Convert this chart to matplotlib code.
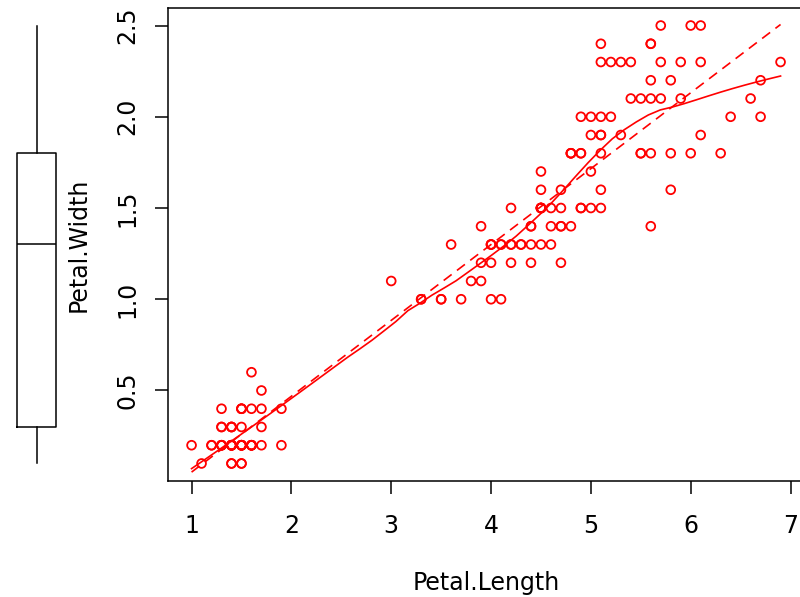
import numpy as np
import matplotlib
matplotlib.use("Agg")
import matplotlib.pyplot as plt

# iris data (Petal.Length, Petal.Width), 150 rows in original order
petal_length = [
    1.4, 1.4, 1.3, 1.5, 1.4, 1.7, 1.4, 1.5, 1.4, 1.5, 1.5, 1.6, 1.4, 1.1, 1.2, 1.5, 1.3, 1.4, 1.7, 1.5,
    1.7, 1.5, 1.0, 1.7, 1.9, 1.6, 1.6, 1.5, 1.4, 1.6, 1.6, 1.5, 1.5, 1.4, 1.5, 1.2, 1.3, 1.4, 1.3, 1.5,
    1.3, 1.3, 1.3, 1.6, 1.9, 1.4, 1.6, 1.4, 1.5, 1.4,
    4.7, 4.5, 4.9, 4.0, 4.6, 4.5, 4.7, 3.3, 4.6, 3.9, 3.5, 4.2, 4.0, 4.7, 3.6, 4.4, 4.5, 4.1, 4.5, 3.9,
    4.8, 4.0, 4.9, 4.7, 4.3, 4.4, 4.8, 5.0, 4.5, 3.5, 3.8, 3.7, 3.9, 5.1, 4.5, 4.5, 4.7, 4.4, 4.1, 4.0,
    4.4, 4.6, 4.0, 3.3, 4.2, 4.2, 4.2, 4.3, 3.0, 4.1,
    6.0, 5.1, 5.9, 5.6, 5.8, 6.6, 4.5, 6.3, 5.8, 6.1, 5.1, 5.3, 5.5, 5.0, 5.1, 5.3, 5.5, 6.7, 6.9, 5.0,
    5.7, 4.9, 6.7, 4.9, 5.7, 6.0, 4.8, 4.9, 5.6, 5.8, 6.1, 6.4, 5.6, 5.1, 5.6, 6.1, 5.6, 5.5, 4.8, 5.4,
    5.6, 5.1, 5.1, 5.9, 5.7, 5.2, 5.0, 5.2, 5.4, 5.1,
]
petal_width = [
    0.2, 0.2, 0.2, 0.2, 0.2, 0.4, 0.3, 0.2, 0.2, 0.1, 0.2, 0.2, 0.1, 0.1, 0.2, 0.4, 0.4, 0.3, 0.3, 0.3,
    0.2, 0.4, 0.2, 0.5, 0.2, 0.2, 0.4, 0.2, 0.2, 0.2, 0.2, 0.4, 0.1, 0.2, 0.2, 0.2, 0.2, 0.1, 0.2, 0.2,
    0.3, 0.3, 0.2, 0.6, 0.4, 0.3, 0.2, 0.2, 0.2, 0.2,
    1.4, 1.5, 1.5, 1.3, 1.5, 1.3, 1.6, 1.0, 1.3, 1.4, 1.0, 1.5, 1.0, 1.4, 1.3, 1.4, 1.5, 1.0, 1.5, 1.1,
    1.8, 1.3, 1.5, 1.2, 1.3, 1.4, 1.4, 1.7, 1.5, 1.0, 1.1, 1.0, 1.2, 1.6, 1.5, 1.6, 1.5, 1.3, 1.3, 1.3,
    1.2, 1.4, 1.2, 1.0, 1.3, 1.2, 1.3, 1.3, 1.1, 1.3,
    2.5, 1.9, 2.1, 1.8, 2.2, 2.1, 1.7, 1.8, 1.8, 2.5, 2.0, 1.9, 2.1, 2.0, 2.4, 2.3, 1.8, 2.2, 2.3, 1.5,
    2.3, 2.0, 2.0, 1.8, 2.1, 1.8, 1.8, 1.8, 2.1, 1.6, 1.9, 2.0, 2.2, 1.5, 1.4, 2.3, 2.4, 1.8, 1.8, 2.1,
    2.4, 2.3, 1.9, 2.3, 2.5, 2.3, 1.9, 2.0, 2.3, 1.8,
]
x_ticks = [1, 2, 3, 4, 5, 6, 7]
y_ticks = [0.5, 1.0, 1.5, 2.0, 2.5]

RED = "#ff0000"
FONT = "DejaVu Sans"
FS = 17

x = np.array(petal_length)
y = np.array(petal_width)


def loess(x, y, x_eval, span=0.5, iterations=4):
    # local linear fit, tricube weights + bisquare robustness (R loess, family="symmetric")
    n = len(x)
    q = int(np.floor(n * span))
    robust = np.ones(n)

    def fit_at(pts, rw):
        out = np.zeros(len(pts))
        for i, x0 in enumerate(pts):
            d = np.abs(x - x0)
            h = np.sort(d)[q - 1]
            u = np.clip(d / h, 0, 1)
            w = (1 - u**3)**3 * rw
            W = w.sum()
            xm = (w * x).sum() / W
            ym = (w * y).sum() / W
            sxx = (w * (x - xm)**2).sum()
            b = (w * (x - xm) * (y - ym)).sum() / sxx if sxx > 0 else 0.0
            out[i] = ym + b * (x0 - xm)
        return out

    for it in range(iterations - 1):
        res = y - fit_at(x, robust)
        c = 6 * np.median(np.abs(res))
        u = np.clip(res / c, -1, 1)
        robust = (1 - u**2)**2
    return fit_at(x_eval, robust)


fig = plt.figure(figsize=(8.0, 5.97), dpi=100)
W, H = 800.0, 597.0

xlim = (0.764, 7.136)
ylim = (0.004, 2.596)
left, top, bottom = 168, 8, 481
width = (xlim[1] - xlim[0]) * 99.83

ax = fig.add_axes([left / W, 1 - bottom / H, width / W, (bottom - top) / H])
ax.set_xlim(*xlim)
ax.set_ylim(*ylim)

ax.scatter(x, y, s=40, facecolors="none", edgecolors=RED, linewidths=1.3, zorder=3)

# least squares line (dashed)
b1, b0 = np.polyfit(x, y, 1)
xl = np.array([x.min(), x.max()])
ax.plot(xl, b0 + b1 * xl, color=RED, lw=1.2, ls=(0, (6, 4)), zorder=4)

# loess smoother (solid)
xe = np.linspace(x.min(), x.max(), 50)
ax.plot(xe, loess(x, y, xe), color=RED, lw=1.2, zorder=4)

ax.set_xticks(x_ticks)
ax.set_yticks(y_ticks)
ax.set_xticklabels([str(t) for t in x_ticks], fontsize=FS, family=FONT)
ax.set_yticklabels(["%.1f" % t for t in y_ticks], fontsize=FS, family=FONT)
for lab in ax.get_yticklabels():
    lab.set_rotation(90)
    lab.set_va("center")
ax.tick_params(axis="both", length=9.5, width=1.1, color="black")
ax.tick_params(axis="x", pad=14)
ax.tick_params(axis="y", pad=11)
for s in ax.spines.values():
    s.set_linewidth(1.1)

ax.set_xlabel("Petal.Length", fontsize=FS, family=FONT, labelpad=24)
ax.set_ylabel("Petal.Width", fontsize=FS, family=FONT, labelpad=18)

# marginal boxplot for y on the left
axb = fig.add_axes([0, 1 - bottom / H, 75 / W, (bottom - top) / H])
axb.set_xlim(0, 75)
axb.set_ylim(*ylim)
axb.boxplot(y, positions=[36.5], widths=39, showcaps=False, showfliers=False,
            whis=(0, 100), manage_ticks=False,
            boxprops=dict(color="black", lw=1.1),
            whiskerprops=dict(color="black", lw=1.1),
            medianprops=dict(color="black", lw=1.1))
axb.axis("off")

fig.savefig("out.png", dpi=100)
